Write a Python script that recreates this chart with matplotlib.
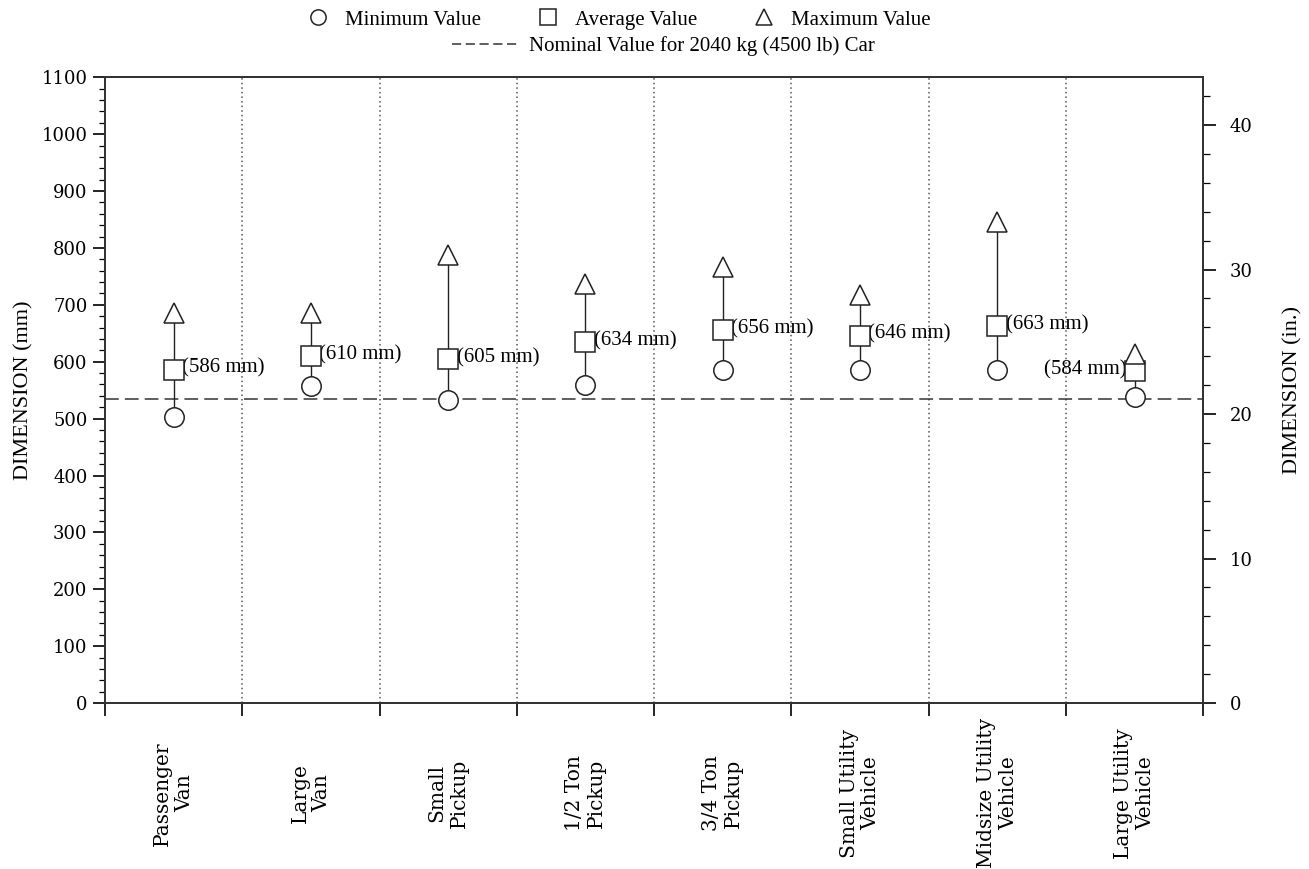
import matplotlib.pyplot as plt
import matplotlib.ticker as ticker
from matplotlib.lines import Line2D

# vehicle classes and dimension values (mm)
categories = ['Passenger\nVan', 'Large\nVan', 'Small\nPickup', '1/2 Ton\nPickup',
              '3/4 Ton\nPickup', 'Small Utility\nVehicle', 'Midsize Utility\nVehicle',
              'Large Utility\nVehicle']
min_vals = [503, 557, 533, 559, 585, 585, 585, 538]
avg_vals = [586, 610, 605, 634, 656, 646, 663, 584]
max_vals = [685, 685, 787, 737, 767, 717, 846, 614]
nominal = 535

serif = 'Liberation Serif'
tickfont = 'DejaVu Serif'

fig = plt.figure(figsize=(13.09, 8.69), dpi=100)
ax = fig.add_axes([0.0802, 0.191, 0.839, 0.720])

n = len(categories)
xs = list(range(n))

# boundaries between classes
for i in range(n - 1):
    ax.axvline(i + 0.5, color='#555555', ls=(0, (1, 2)), lw=1.1, zorder=1)

# nominal car value
ax.axhline(nominal, color='#333333', ls=(0, (9, 4)), lw=1.1, zorder=1)

mk = dict(markersize=14, markerfacecolor='white', markeredgecolor='#222222',
          markeredgewidth=1.1, ls='none', zorder=4)
for i in xs:
    ax.plot([i, i], [min_vals[i], max_vals[i]], color='#222222', lw=1.0, zorder=2)
ax.plot(xs, min_vals, marker='o', **mk)
ax.plot(xs, avg_vals, marker='s', **mk)
ax.plot(xs, max_vals, marker='^', **mk)

for i in xs:
    if i == n - 1:
        ax.annotate('(%d mm)' % avg_vals[i], (i, avg_vals[i]), xytext=(-6, 1),
                    textcoords='offset points', ha='right', va='center',
                    fontsize=15, family=serif)
    else:
        ax.annotate('(%d mm)' % avg_vals[i], (i, avg_vals[i]), xytext=(6, 1),
                    textcoords='offset points', ha='left', va='center',
                    fontsize=15, family=serif)

ax.set_xlim(-0.5, n - 0.5)
ax.set_ylim(0, 1100)

# x ticks at the boundaries, labels at the centres
ax.set_xticks([i - 0.5 for i in range(n + 1)])
ax.set_xticklabels([])
ax.tick_params(axis='x', which='major', direction='out', length=9, width=1.2)
ax.set_xticks(xs, minor=True)
ax.set_xticklabels(categories, minor=True, rotation=90, va='center', ha='center',
                   multialignment='center', fontsize=14.5, family=tickfont)
ax.tick_params(axis='x', which='minor', length=0, pad=65)

ax.yaxis.set_major_locator(ticker.MultipleLocator(100))
ax.yaxis.set_minor_locator(ticker.MultipleLocator(20))
ax.tick_params(axis='y', which='major', direction='out', length=9, width=1.2,
               labelsize=13)
ax.tick_params(axis='y', which='minor', direction='out', length=4, width=0.9)
for lb in ax.get_yticklabels():
    lb.set_family(tickfont)
ax.set_ylabel('DIMENSION (mm)', fontsize=16, family=serif, labelpad=6)

for s in ax.spines.values():
    s.set_linewidth(1.3)
    s.set_color('#333333')

# inch axis on the right
ax2 = ax.twinx()
ax2.set_ylim(0, 1100 / 25.4)
ax2.yaxis.set_major_locator(ticker.MultipleLocator(10))
ax2.yaxis.set_minor_locator(ticker.MultipleLocator(2))
ax2.tick_params(axis='y', which='major', direction='out', length=9, width=1.2,
                labelsize=13, pad=10)
ax2.tick_params(axis='y', which='minor', direction='out', length=5, width=0.9)
for lb in ax2.get_yticklabels():
    lb.set_family(tickfont)
ax2.set_ylabel('DIMENSION (in.)', fontsize=16, family=serif, labelpad=22)
for s in ax2.spines.values():
    s.set_linewidth(1.3)
    s.set_color('#333333')

# legend
lmk = dict(markersize=11, markerfacecolor='white', markeredgecolor='#222222',
           markeredgewidth=1.1, ls='none')
h1 = [Line2D([], [], marker='o', **lmk),
      Line2D([], [], marker='s', **lmk),
      Line2D([], [], marker='^', **lmk)]
fig.legend(h1, ['Minimum Value', 'Average Value', 'Maximum Value'],
           loc='center', bbox_to_anchor=(0.469, 0.977), ncol=3, frameon=False,
           prop={'family': serif, 'size': 15}, handletextpad=0.3,
           columnspacing=2.2)
h2 = [Line2D([], [], color='#333333', ls=(0, (6, 3)), lw=1.1)]
fig.legend(h2, ['Nominal Value for 2040 kg (4500 lb) Car'],
           loc='center', bbox_to_anchor=(0.507, 0.947), frameon=False,
           prop={'family': serif, 'size': 15}, handlelength=3.2,
           handletextpad=0.5)

fig.savefig('out.png', dpi=100)
